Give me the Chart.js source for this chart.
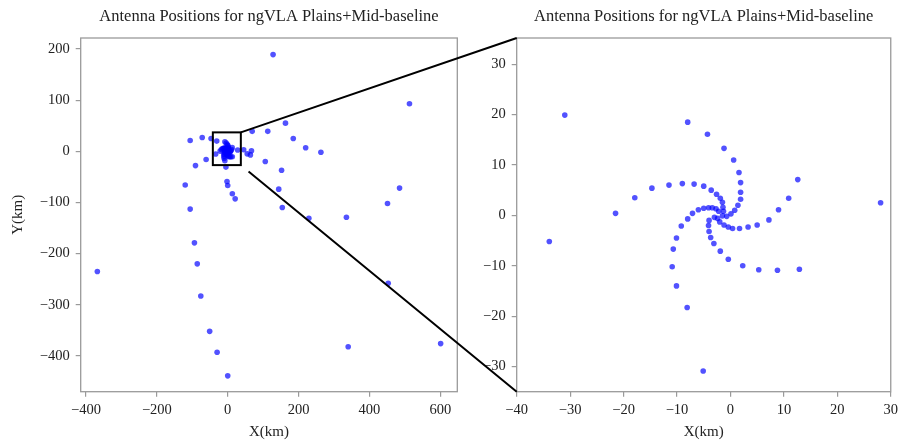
<!DOCTYPE html>
<html>
<head>
<meta charset="utf-8">
<script src="https://cdn.jsdelivr.net/npm/chart.js@4.4.0/dist/chart.umd.min.js"></script>
<style>
  html, body { margin: 0; padding: 0; background: #fff; }
  #wrap { position: relative; width: 903px; height: 447px; }
  canvas { position: absolute; top: 0; }
  #left { left: 0; }
  #right { left: 460px; }
  #links { left: 0; pointer-events: none; }
</style>
</head>
<body>
<div id="wrap">
  <canvas id="left" width="470" height="447"></canvas>
  <canvas id="right" width="443" height="447"></canvas>
  <canvas id="links" width="903" height="447"></canvas>
</div>
<script>
// Antenna positions (km)

// outer stations, only in the wide view
const outerX = [128, 513, 163, 69, 113, 185, 220, 263, 45, 55, 64, 67, 106, 152, 144, 154, 229, 335, 451, 485, 453, 340, 601,
                -106, -72, -47, -61, -91, -120, -2, 0, 13, 21, -106, -368, -94, -86, -76, -51, -30, 0];
const outerY = [189, 93, 55, 39, 39, 25, 7, -2, 3, -5, -7, 1, -20, -37, -74, -110, -131, -129, -102, -72, -258, -382, -376,
                21, 27, 25, -16, -28, -66, -59, -67, -83, -93, -113, -235, -179, -220, -283, -352, -393, -439];

// core stations (spiral arms + a few isolated ones), seen in both views
const coreX = [-31.0, -33.9, 28.1, -5.1,
  // arm up
  1.4, 1.9, 1.9, 1.9, 1.6, 0.6, -1.2, -4.3, -8.0, 0.8, 0.1, -0.7,
  // arm left
  -2.6, -3.6, -5.0, -6.8, -9.0, -11.5, -14.7, -17.9, -21.5, -1.9, -1.5, -1.4, -1.3, -1.5,
  // arm lower left
  -2.2, -2.7, -3.4, -4.1, -5.0, -6.0, -7.1, -8.0, -9.2, -10.1, -10.7, -10.9, -10.1, -8.1,
  // arm down
  -3.0, -2.4, -4.0, -4.1, -4.0, -3.7, -3.1, -1.9, -0.4, 2.3, 5.3, 8.8, 12.9,
  // arm right
  -2.0, -1.2, -0.4, 0.4, 1.7, 3.3, 5.0, 7.2, 9.0, 10.9, 12.6];
const coreY = [19.9, -5.2, 2.5, -30.9,
  2.0, 3.2, 4.6, 6.5, 8.5, 11.0, 13.3, 16.1, 18.5, 1.0, 0.3, -0.2,
  4.2, 5.0, 5.8, 6.2, 6.3, 6.0, 5.4, 3.5, 0.4, 3.4, 2.6, 1.6, 0.8, -0.1,
  0.8, 1.3, 1.5, 1.5, 1.4, 1.1, 0.4, -0.7, -2.1, -4.5, -6.7, -10.2, -14.0, -18.3,
  -0.4, -0.6, -1.0, -2.0, -3.2, -4.4, -5.6, -7.1, -8.7, -10.0, -10.8, -10.9, -10.7,
  -1.3, -1.9, -2.3, -2.6, -2.6, -2.3, -1.9, -0.9, 1.1, 3.4, 7.1];

// axes
const wideXRange = [-415, 648];
const wideYRange = [-470, 221.5];
const wideXTicks = [-400, -200, 0, 200, 400, 600];
const wideYTicks = [-400, -300, -200, -100, 0, 100, 200];
const zoomXRange = [-40, 30];
const zoomYRange = [-35, 35.2];
const zoomXTicks = [-40, -30, -20, -10, 0, 10, 20, 30];
const zoomYTicks = [-30, -20, -10, 0, 10, 20, 30];
// inset marker as drawn in the wide view
const boxX = [-42, 37];
const boxY = [-27, 37];

const titleText = 'Antenna Positions for ngVLA Plains+Mid-baseline';
const serif = "'Liberation Serif', 'DejaVu Serif', serif";
const frameColor = '#9a9a9a';
const dotColor = 'rgba(0, 0, 255, 0.68)';

function toPoints(xs, ys) {
    return xs.map((x, i) => ({ x: x, y: ys[i] }));
}

function fmt(v) {
    return v < 0 ? '\u2212' + Math.abs(v) : String(v);
}

// frame round the plot area + title centred over it
const framePlugin = {
    id: 'frame',
    beforeDatasetsDraw(chart) {
        const a = chart.chartArea, ctx = chart.ctx;
        ctx.save();
        ctx.fillStyle = '#222';
        ctx.font = '16.5px ' + serif;
        ctx.textAlign = 'center';
        ctx.textBaseline = 'middle';
        ctx.fillText(titleText, (a.left + a.right) / 2, 17);
        ctx.restore();
    },
    afterDatasetsDraw(chart) {
        const a = chart.chartArea, ctx = chart.ctx;
        ctx.save();
        ctx.strokeStyle = frameColor;
        ctx.lineWidth = 1.3;
        ctx.strokeRect(a.left, a.top, a.right - a.left, a.bottom - a.top);
        ctx.restore();
    }
};

// inset rectangle on the wide view
const boxPlugin = {
    id: 'insetBox',
    afterDatasetsDraw(chart) {
        const sx = chart.scales.x, sy = chart.scales.y, ctx = chart.ctx;
        const x0 = sx.getPixelForValue(boxX[0]), x1 = sx.getPixelForValue(boxX[1]);
        const y0 = sy.getPixelForValue(boxY[1]), y1 = sy.getPixelForValue(boxY[0]);
        ctx.save();
        ctx.strokeStyle = '#000';
        ctx.lineWidth = 2;
        ctx.strokeRect(x0, y0, x1 - x0, y1 - y0);
        ctx.restore();
    }
};

function makeOptions(xRange, yRange, xTicks, yTicks, yWidth, padRight) {
    const tickFont = { family: serif, size: 14.5 };
    return {
        responsive: false,
        animation: false,
        events: [],
        layout: { padding: { top: 38, right: padRight, bottom: 0, left: 0 } },
        plugins: { legend: { display: false }, tooltip: { enabled: false } },
        scales: {
            x: {
                type: 'linear',
                min: xRange[0], max: xRange[1],
                afterBuildTicks: s => { s.ticks = xTicks.map(v => ({ value: v })); },
                afterFit: s => { s.height = 55.3; },
                border: { display: false },
                grid: { display: true, drawOnChartArea: false, drawTicks: true, tickLength: 5, color: frameColor, lineWidth: 1.2 },
                ticks: { font: tickFont, color: '#222', padding: 5, maxRotation: 0, callback: fmt },
                title: { display: true, text: 'X(km)', font: { family: serif, size: 15 }, color: '#222', padding: { top: 0, bottom: 6 } }
            },
            y: {
                type: 'linear',
                min: yRange[0], max: yRange[1],
                afterBuildTicks: s => { s.ticks = yTicks.map(v => ({ value: v })); },
                afterFit: s => { s.width = yWidth; },
                border: { display: false },
                grid: { display: true, drawOnChartArea: false, drawTicks: true, tickLength: 5, color: frameColor, lineWidth: 1.2 },
                ticks: { font: tickFont, color: '#222', padding: 6, callback: fmt }
            }
        }
    };
}

const dotStyle = { backgroundColor: dotColor, borderWidth: 0, pointRadius: 2.8 };

const wideOpts = makeOptions(wideXRange, wideYRange, wideXTicks, wideYTicks, 80.7, 12.7);
wideOpts.scales.y.title = { display: true, text: 'Y(km)', font: { family: serif, size: 15 }, color: '#222', padding: { top: 9, bottom: 0 } };

const leftChart = new Chart(document.getElementById('left'), {
    type: 'scatter',
    data: {
        datasets: [
            Object.assign({ data: toPoints(outerX, outerY) }, dotStyle),
            Object.assign({ data: toPoints(coreX, coreY) }, dotStyle)
        ]
    },
    options: wideOpts,
    plugins: [framePlugin, boxPlugin]
});

const rightChart = new Chart(document.getElementById('right'), {
    type: 'scatter',
    data: {
        datasets: [Object.assign({ data: toPoints(coreX, coreY) }, dotStyle)]
    },
    options: makeOptions(zoomXRange, zoomYRange, zoomXTicks, zoomYTicks, 56.7, 9.7),
    plugins: [framePlugin]
});

// connector lines from the inset box to the zoomed axes
(function drawLinks() {
    const ctx = document.getElementById('links').getContext('2d');
    const sx = leftChart.scales.x, sy = leftChart.scales.y;
    const off = 460;
    const ra = rightChart.chartArea;
    const boxRight = sx.getPixelForValue(boxX[1]);
    const p1 = { x: boxRight, y: sy.getPixelForValue(boxY[1]) };
    const q1 = { x: off + ra.left, y: ra.top };
    const p2 = { x: boxRight, y: sy.getPixelForValue(boxY[0]) };
    const q2 = { x: off + ra.left, y: ra.bottom };
    // the lower connector starts a little away from the box corner
    const len = Math.hypot(q2.x - p2.x, q2.y - p2.y);
    const gap = 10;
    const s2 = { x: p2.x + (q2.x - p2.x) * gap / len, y: p2.y + (q2.y - p2.y) * gap / len };
    ctx.strokeStyle = '#000';
    ctx.lineWidth = 2;
    ctx.beginPath();
    ctx.moveTo(p1.x, p1.y);
    ctx.lineTo(q1.x, q1.y);
    ctx.moveTo(s2.x, s2.y);
    ctx.lineTo(q2.x, q2.y);
    ctx.stroke();
})();
</script>
</body>
</html>
